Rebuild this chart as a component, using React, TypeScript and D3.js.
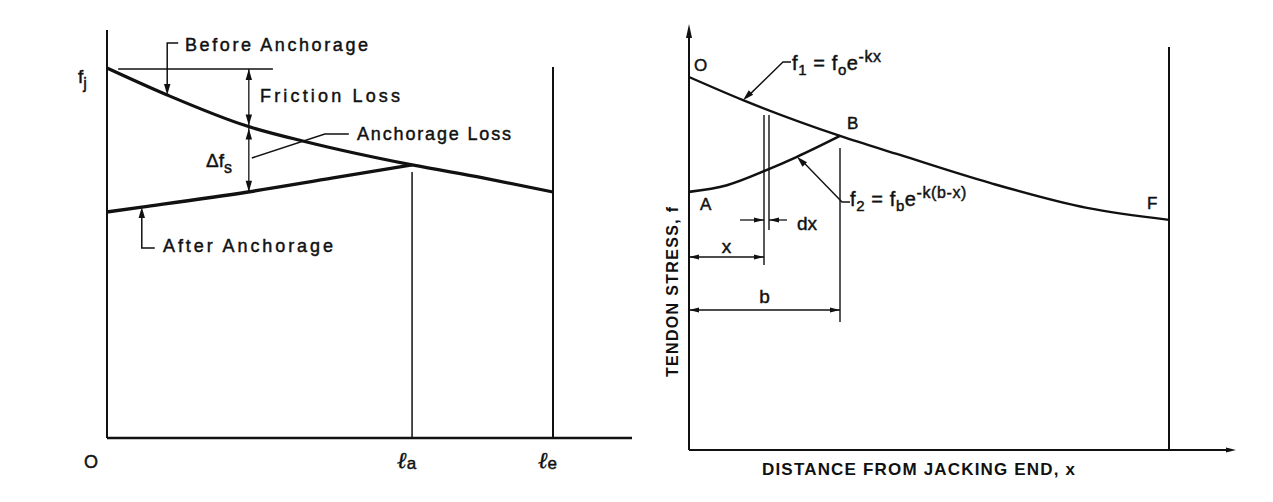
import * as d3 from "d3";

// ---- left diagram: stress along tendon before / after anchorage ----
const LEFT_X = [0, 1.35, 3.14, 4.48, 6.84, 8.43, 10];
const LEFT_BEFORE = [100, 92.7, 84.3, 80.0, 73.8, 70.3, 66.5];
const LEFT_AFTER_X = [0, 0.78, 3.16, 5.07, 6.84];
const LEFT_AFTER = [61.1, 62.4, 66.5, 70.3, 73.8];
const LEFT_MARKS = [
  { sym: "ℓ", sub: "a", x: 6.84 },
  { sym: "ℓ", sub: "e", x: 10 },
];

// ---- right diagram: tendon stress vs distance from jacking end ----
const RIGHT_X = [0, 1.125, 3.146, 4.396, 6.27, 8.29, 10];
const RIGHT_F1 = [100, 93.8, 84.2, 79.1, 71.6, 64.9, 61.7];
const RIGHT_A_X = [0, 0.79, 1.625, 2.25, 3.146];
const RIGHT_F2 = [69.2, 71.0, 75.1, 78.6, 84.2];
const X_POS = 1.5625;
const DX_WIDTH = 0.104;
const B_POS = 3.146;

const FONT = "'Liberation Sans', Arial, sans-serif";
const INK = "#111";

// filled narrow arrow head, tip at (x, y), pointing along angle (radians)
function head(x: number, y: number, angle: number, len = 11, half = 3.2) {
  const bx = x - len * Math.cos(angle);
  const by = y - len * Math.sin(angle);
  const nx = -Math.sin(angle) * half;
  const ny = Math.cos(angle) * half;
  return `M${x},${y}L${bx + nx},${by + ny}L${bx - nx},${by - ny}Z`;
}

function Head({ x, y, angle, len, half }: { x: number; y: number; angle: number; len?: number; half?: number }) {
  return <path d={head(x, y, angle, len, half)} fill={INK} />;
}

export default function App() {
  // left scales
  const xL = d3.scaleLinear().domain([0, 10]).range([107, 553]);
  const yL = d3.scaleLinear().domain([0, 100]).range([438, 68]);
  // right scales
  const xR = d3.scaleLinear().domain([0, 10]).range([689, 1169]);
  const yR = d3.scaleLinear().domain([0, 100]).range([450, 77]);

  // piecewise lookups for placing the annotations on the curves
  const before = d3.scaleLinear().domain(LEFT_X).range(LEFT_BEFORE);
  const after = d3.scaleLinear().domain(LEFT_AFTER_X).range(LEFT_AFTER);
  const f1 = d3.scaleLinear().domain(RIGHT_X).range(RIGHT_F1);
  const f2 = d3.scaleLinear().domain(RIGHT_A_X).range(RIGHT_F2);

  const pathOf = (xs: number[], ys: number[], sx: d3.ScaleLinear<number, number>, sy: d3.ScaleLinear<number, number>) =>
    d3
      .line<number>()
      .x((d) => sx(d))
      .y((_, i) => sy(ys[i]))
      .curve(d3.curveMonotoneX)(xs) ?? "";

  // left annotation anchors
  const dimX = 3.18;
  const px = xL(dimX);
  const yTop = yL(100);
  const yMid = yL(before(dimX));
  const yLow = yL(after(dimX));
  const bLeadX = xL(1.35);
  const bLeadY = yL(before(1.35));
  const aLeadX = xL(0.78);
  const aLeadY = yL(after(0.78));
  const la = xL(LEFT_MARKS[0].x);

  // right annotation anchors
  const xa = xR(X_POS);
  const xb = xR(X_POS + DX_WIDTH);
  const bx = xR(B_POS);
  const f1Tip = { x: xR(1.125), y: yR(f1(1.125)) };
  const f2Tip = { x: xR(2.25), y: yR(f2(2.25)) };

  const heavy = { stroke: INK, strokeWidth: 0.45 };

  return (
    <svg
      width={1273}
      height={502}
      style={{ position: "absolute", left: 0, top: 0, background: "#fff" }}
      fontFamily={FONT}
    >
      {/* ================= LEFT ================= */}
      <g stroke={INK} fill="none">
        <line x1={xL(0)} x2={xL(0)} y1={30} y2={yL(0)} strokeWidth={2} />
        <line x1={xL(0)} x2={632} y1={yL(0)} y2={yL(0)} strokeWidth={2.6} />
        <line x1={la} x2={la} y1={yL(before(LEFT_MARKS[0].x)) + 7} y2={yL(0)} strokeWidth={1.5} />
        <line x1={xL(10)} x2={xL(10)} y1={67} y2={yL(0)} strokeWidth={2} />
        <path d={pathOf(LEFT_X, LEFT_BEFORE, xL, yL)} strokeWidth={3.2} />
        <path d={pathOf(LEFT_AFTER_X, LEFT_AFTER, xL, yL)} strokeWidth={3.4} />
        {/* fj reference line */}
        <line x1={xL(0.25)} x2={xL(3.72)} y1={yTop + 1} y2={yTop + 1} strokeWidth={1.5} />
        {/* friction loss + anchorage loss dimension line */}
        <line x1={px} x2={px} y1={yTop + 1} y2={yLow} strokeWidth={1.3} />
        {/* before anchorage leader */}
        <polyline points={`${bLeadX + 11},43 ${bLeadX},43 ${bLeadX},${bLeadY - 8}`} strokeWidth={1.5} />
        {/* after anchorage leader */}
        <polyline points={`${aLeadX + 13},248 ${aLeadX},248 ${aLeadX},${aLeadY + 8}`} strokeWidth={1.5} />
        {/* anchorage loss leader */}
        <polyline points={`${px + 3},158 ${px + 76},134 ${px + 100},134`} strokeWidth={1.5} />
      </g>
      <Head x={bLeadX} y={bLeadY} angle={Math.PI / 2} />
      <Head x={aLeadX} y={aLeadY} angle={-Math.PI / 2} />
      <Head x={px} y={yTop + 1} angle={-Math.PI / 2} />
      <Head x={px} y={yMid - 1} angle={Math.PI / 2} />
      <Head x={px} y={yMid + 2} angle={-Math.PI / 2} />
      <Head x={px} y={yLow} angle={Math.PI / 2} />

      <g fill={INK} fontSize={18} {...heavy}>
        <text x={185} y={51} textLength={183} lengthAdjust="spacing">Before Anchorage</text>
        <text x={260} y={102} textLength={140} lengthAdjust="spacing">Friction Loss</text>
        <text x={357} y={140} textLength={154} lengthAdjust="spacing">Anchorage Loss</text>
        <text x={163} y={252} textLength={170} lengthAdjust="spacing">After Anchorage</text>
        <text x={206} y={167} fontSize={19}>
          Δf<tspan fontSize={16} dy={6}>s</tspan>
        </text>
        <text x={78} y={83} fontSize={19}>
          f<tspan fontSize={16} dy={6}>j</tspan>
        </text>
        <text x={84} y={468}>O</text>
        {LEFT_MARKS.map((m) => (
          <text key={m.sub} x={xL(m.x) - 15} y={468} fontFamily="'DejaVu Serif', serif" fontStyle="italic" fontSize={23}>
            {m.sym}
            <tspan fontFamily={FONT} fontStyle="normal" fontSize={17} dy={1}>{m.sub}</tspan>
          </text>
        ))}
      </g>

      {/* ================= RIGHT ================= */}
      <g stroke={INK} fill="none">
        <line x1={xR(0)} x2={xR(0)} y1={30} y2={yR(0)} strokeWidth={2} />
        <line x1={xR(0)} x2={1230} y1={yR(0)} y2={yR(0)} strokeWidth={2} />
        <line x1={xR(10)} x2={xR(10)} y1={47} y2={yR(0)} strokeWidth={2} />
        <path d={pathOf(RIGHT_X, RIGHT_F1, xR, yR)} strokeWidth={2.4} />
        <path d={pathOf(RIGHT_A_X, RIGHT_F2, xR, yR)} strokeWidth={2.6} />
        {/* element dx */}
        <line x1={xa} x2={xa} y1={115} y2={265} strokeWidth={1.4} />
        <line x1={xb} x2={xb} y1={115} y2={230} strokeWidth={1.4} />
        <line x1={bx} x2={bx} y1={148} y2={322} strokeWidth={1.4} />
        <line x1={xa - 24} x2={xa} y1={220} y2={220} strokeWidth={1.3} />
        <line x1={xb} x2={xb + 18} y1={220} y2={220} strokeWidth={1.3} />
        {/* x and b dimensions */}
        <line x1={xR(0)} x2={xa} y1={257} y2={257} strokeWidth={1.3} />
        <line x1={xR(0)} x2={bx} y1={310} y2={310} strokeWidth={1.3} />
        {/* leaders */}
        <polyline points={`${f1Tip.x + 48},62 ${f1Tip.x + 40},62 ${f1Tip.x + 5},${f1Tip.y - 4}`} strokeWidth={1.4} />
        <polyline points={`${bx + 10},202 ${bx + 2},202 ${f2Tip.x + 5},${f2Tip.y + 4}`} strokeWidth={1.4} />
      </g>
      <Head x={xR(0)} y={24} angle={-Math.PI / 2} len={14} half={3} />
      <Head x={1236} y={yR(0)} angle={0} len={10} half={2.5} />
      <Head x={xa} y={220} angle={0} len={10} half={2.5} />
      <Head x={xb} y={220} angle={Math.PI} len={10} half={2.5} />
      <Head x={xR(0)} y={257} angle={Math.PI} len={10} half={2.5} />
      <Head x={xa} y={257} angle={0} len={10} half={2.5} />
      <Head x={xR(0)} y={310} angle={Math.PI} len={10} half={2.5} />
      <Head x={bx} y={310} angle={0} len={10} half={2.5} />
      <Head
        x={f1Tip.x}
        y={f1Tip.y}
        angle={Math.atan2(f1Tip.y - 62, f1Tip.x - (f1Tip.x + 40))}
      />
      <Head
        x={f2Tip.x}
        y={f2Tip.y}
        angle={Math.atan2(f2Tip.y - 202, f2Tip.x - (bx + 2))}
      />

      <g fill={INK} fontSize={17} {...heavy}>
        <text x={694} y={71}>O</text>
        <text x={847} y={129}>B</text>
        <text x={700} y={210}>A</text>
        <text x={1147} y={209}>F</text>
        <text x={797} y={230} fontSize={19}>dx</text>
        <text x={(xR(0) + xa) / 2} y={253} textAnchor="middle" fontSize={19}>x</text>
        <text x={(xR(0) + bx) / 2} y={303} textAnchor="middle" fontSize={19}>b</text>
        <text x={792} y={70} fontSize={20} letterSpacing={0.6}>
          f<tspan fontSize={15} dy={5}>1</tspan>
          <tspan dy={-5}> = f</tspan>
          <tspan fontSize={15} dy={5}>o</tspan>
          <tspan dy={-5}>e</tspan>
          <tspan fontSize={16} dy={-8}>-kx</tspan>
        </text>
        <text x={850} y={206} fontSize={20} letterSpacing={0.6}>
          f<tspan fontSize={15} dy={5}>2</tspan>
          <tspan dy={-5}> = f</tspan>
          <tspan fontSize={15} dy={5}>b</tspan>
          <tspan dy={-5}>e</tspan>
          <tspan fontSize={16} dy={-8}>-k(b-x)</tspan>
        </text>
        <text
          transform="translate(678,292) rotate(-90)"
          textAnchor="middle"
          fontSize={16}
          fontWeight="bold"
          strokeWidth={0}
          textLength={170}
          lengthAdjust="spacing"
        >
          TENDON STRESS, f
        </text>
        <text x={762} y={475} fontSize={17} fontWeight="bold" strokeWidth={0} textLength={313} lengthAdjust="spacing">
          DISTANCE FROM JACKING END, x
        </text>
      </g>
    </svg>
  );
}
